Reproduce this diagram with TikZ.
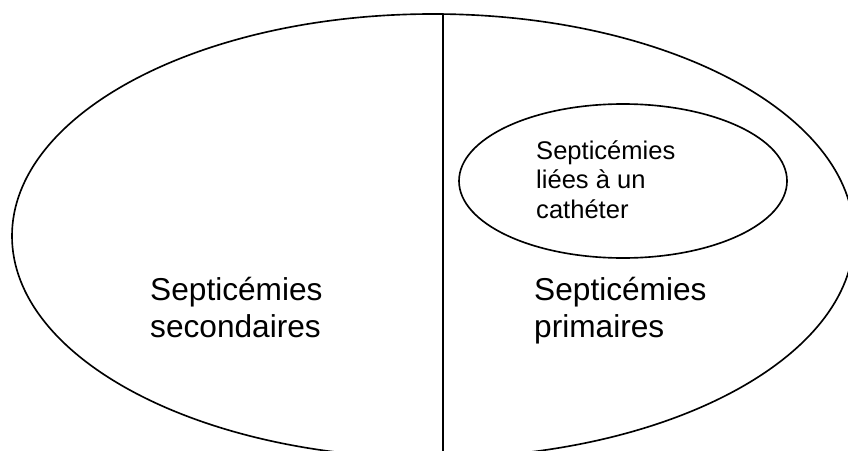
\documentclass[tikz,border=0pt]{standalone}
\usepackage{fontspec}
\setmainfont{Liberation Sans}
\usepackage{tikz}

\begin{document}
\begin{tikzpicture}[x=0.03cm, y=-0.03cm,
    bigtext/.style={anchor=base west, align=left, inner sep=0pt, font=\fontsize{27}{31}\selectfont},
    smalltext/.style={anchor=base west, align=left, inner sep=0pt, font=\fontsize{21.8}{24.8}\selectfont},
    outline/.style={line width=1.4pt}]
    \useasboundingbox (0,0) rectangle (848,450);
    \clip (0,0) rectangle (848,450);
    % the whole set, cut in two
    \draw[outline] (433,236) ellipse (421 and 222);
    \coordinate (splittop) at (443,14);
    \coordinate (splitbottom) at (443,452);
    \draw[outline] (splittop) -- (splitbottom);
    % the subset on the right
    \draw[outline] (623,181) ellipse (164 and 77);
    % base = last line
    \node[bigtext] (secondaires) at (150,337) {Septicémies\\secondaires};
    \node[bigtext] (primaires) at (534,337) {Septicémies\\primaires};
    \node[smalltext] (catheter) at (536,218) {Septicémies\\liées à un\\cathéter};
\end{tikzpicture}
\end{document}
